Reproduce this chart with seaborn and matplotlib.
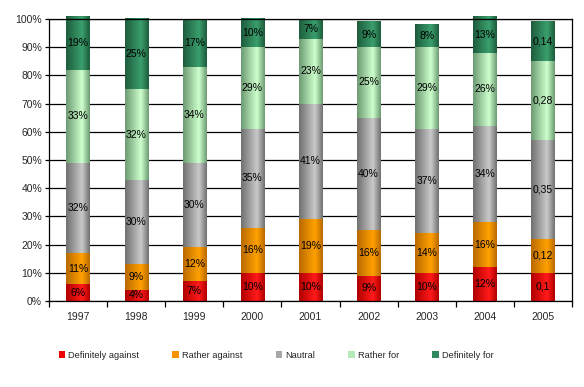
import numpy as np
import pandas as pd
import matplotlib
matplotlib.use("Agg")
import matplotlib.pyplot as plt
from matplotlib.colors import LinearSegmentedColormap
from matplotlib.patches import Patch
import seaborn as sns

years = ["1997", "1998", "1999", "2000", "2001", "2002", "2003", "2004", "2005"]
series = ["Definitely against", "Rather against", "Nautral", "Rather for", "Definitely for"]
def_against = [6, 4, 7, 10, 10, 9, 10, 12, 10]
rather_against = [11, 9, 12, 16, 19, 16, 14, 16, 12]
neutral = [32, 30, 30, 35, 41, 40, 37, 34, 35]
rather_for = [33, 32, 34, 29, 23, 25, 29, 26, 28]
def_for = [19, 25, 17, 10, 7, 9, 8, 13, 14]
labels_2005 = ["0,1", "0,12", "0,35", "0,28", "0,14"]

values = [def_against, rather_against, neutral, rather_for, def_for]
# (edge, center) colours for the gradient
colors = [("#b00000", "#ff1a1a"),
          ("#b86a00", "#ffa000"),
          ("#707070", "#c8c8c8"),
          ("#6d9a72", "#ccffcc"),
          ("#1d5c3c", "#3a9e6c")]
mid_colors = ["#ee0000", "#f59200", "#a8a8a8", "#b5eab8", "#2e8a5c"]

sns.set_theme(style="white")
plt.rcParams['font.family'] = ['Liberation Sans', 'DejaVu Sans']

fig = plt.figure(figsize=(5.84, 3.87), dpi=100)
ax = fig.add_axes([49/584, 1-301/387, (572-49)/584, (301-19)/387])

df = pd.DataFrame({"year": years})
bottom = np.zeros(len(years))
bar_patches = []
for i, (name, vals) in enumerate(zip(series, values)):
    v = np.array(vals) / 100.0
    df["v"] = v
    n_before = len(ax.patches)
    sns.barplot(data=df, x="year", y="v", bottom=bottom, color=mid_colors[i],
                width=0.4, ax=ax, saturation=1, linewidth=0, clip_on=False)
    new = ax.patches[n_before:]
    bar_patches.append((i, new))
    bottom = bottom + v

ax.set_xlim(-0.5, 8.5)
ax.set_ylim(0, 1)

# gradient overlay clipped to each bar
grad = np.concatenate([np.linspace(0, 1, 60), np.linspace(1, 0, 30)])
grad = grad.reshape(1, -1)
for i, patches in bar_patches:
    cmap = LinearSegmentedColormap.from_list("g%d" % i, [colors[i][0], colors[i][1]])
    for p in patches:
        x0, y0 = p.get_x(), p.get_y()
        w, h = p.get_width(), p.get_height()
        im = ax.imshow(grad, cmap=cmap, aspect="auto", extent=[x0, x0 + w, y0, y0 + h],
                       zorder=p.get_zorder() + 0.1, interpolation="bilinear", clip_on=False)
        im.set_clip_path(p)

ax.set_xlim(-0.5, 8.5)
ax.set_ylim(0, 1)

# data labels
bottom = np.zeros(len(years))
for i, vals in enumerate(values):
    v = np.array(vals) / 100.0
    for j in range(len(years)):
        txt = labels_2005[i] if years[j] == "2005" else f"{vals[j]}%"
        ax.text(j, bottom[j] + v[j] / 2, txt, ha="center", va="center", fontsize=7.5,
                color="black", zorder=10, clip_on=False)
    bottom = bottom + v

# grid and frame
ax.set_yticks(np.arange(0, 1.01, 0.1))
ax.set_yticklabels([f"{int(round(t*100))}%" for t in np.arange(0, 1.01, 0.1)], fontsize=7.5)
ax.yaxis.grid(True, color="black", linewidth=0.9)
ax.set_axisbelow(True)
for s in ax.spines.values():
    s.set_color("black")
    s.set_linewidth(0.9)
ax.tick_params(axis="y", left=True, length=3, width=0.9, color="black", pad=2, labelsize=7.5)
ax.set_xticks(range(len(years)))
ax.set_xticklabels(years, fontsize=7.5)
ax.set_xticks(np.arange(-0.5, 9, 1), minor=True)
ax.tick_params(axis="x", which="major", bottom=False, length=0, pad=8, labelsize=7.5)
ax.tick_params(axis="x", which="minor", bottom=True, length=4, width=0.9, color="black")
ax.set_xlabel("")
ax.set_ylabel("")

handles = [Patch(facecolor=mid_colors[i], edgecolor="none", label=series[i]) for i in range(5)]
fig.legend(handles=handles, loc="center", bbox_to_anchor=(276/584, 1-355/387), ncol=5,
           frameon=False, fontsize=6.7, handlelength=0.7, handleheight=0.7,
           handletextpad=0.3, columnspacing=3.6)

fig.savefig("out.png", dpi=100)
